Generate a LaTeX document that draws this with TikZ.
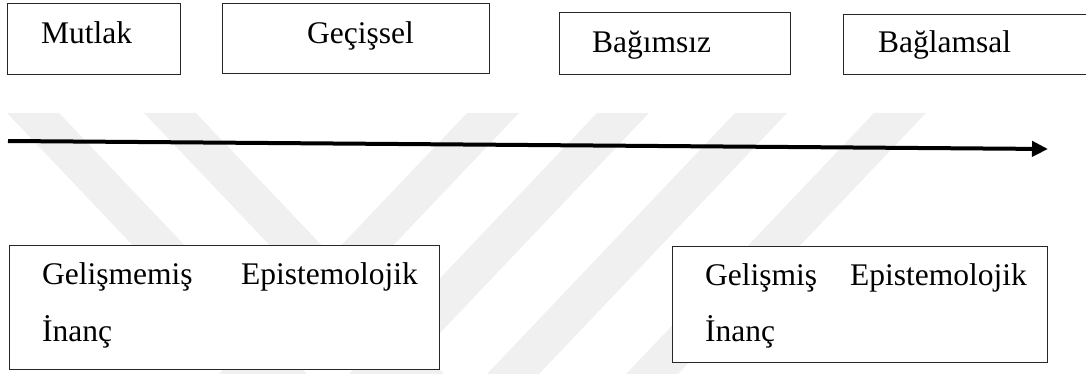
\documentclass[tikz,border=0pt]{standalone}
\usepackage{fontspec}
\setmainfont{Liberation Serif}
\usetikzlibrary{arrows.meta}
\tikzset{
  box/.style={draw=black!85, line width=1.2pt, fill=white, inner sep=0pt, anchor=north west},
  lbl/.style={inner sep=0pt, font=\fontsize{31.5}{40}\selectfont},
  wm/.style={fill=black!6, draw=none},
  axis/.style={line width=4pt, -{Triangle[length=16pt,width=15pt]}}
}
\begin{document}
\begin{tikzpicture}[x=1pt,y=-1pt]
\useasboundingbox (0,0) rectangle (1086,374);
\begin{scope}
\clip (0,0) rectangle (1086,374);
% watermark stripes
\foreach \xa in {7,144}{
  \fill[wm] (\xa,113) -- (\xa+52,113) -- ({\xa+52+0.95*290},403) -- ({\xa+0.95*290},403) -- cycle;
}
\foreach \xa in {467,597,735,874}{
  \fill[wm] (\xa,113) -- (\xa+52,113) -- ({\xa+52-0.95*290},403) -- ({\xa-0.95*290},403) -- cycle;
}
% top boxes
\node[box, minimum width=173pt, minimum height=71pt] (b1) at (7,3) {};
\node[box, minimum width=267pt, minimum height=70pt] (b2) at (222,3) {};
\node[box, minimum width=231pt, minimum height=62pt] (b3) at (559,12) {};
\node[box, minimum width=260pt, minimum height=60pt] (b4) at (843,14) {};
\end{scope}
\node[lbl, anchor=base west] (t1) at (41,44) {Mutlak};
\node[lbl, anchor=base west] (t2) at (307,44) {Geçişsel};
\node[lbl, anchor=base west] (t3) at (592,53) {Bağımsız};
\node[lbl, anchor=base west] (t4) at (878,53) {Bağlamsal};
% arrow
\coordinate (as) at (8,141);
\coordinate (ae) at (1048,149);
\draw[axis] (as) -- (ae);
% bottom boxes
\node[box, minimum width=430pt, minimum height=124pt] (c1) at (9,245) {};
\node[box, minimum width=375pt, minimum height=116pt] (c2) at (672,246) {};
\node[lbl, anchor=base west] (g1) at (42,284) {Gelişmemiş};
\node[lbl, anchor=base east] (e1) at (418,284) {Epistemolojik};
\node[lbl, anchor=base west] (i1) at (42,341) {İnanç};
\node[lbl, anchor=base west] (g2) at (705,285) {Gelişmiş};
\node[lbl, anchor=base east] (e2) at (1027,285) {Epistemolojik};
\node[lbl, anchor=base west] (i2) at (705,341) {İnanç};
\end{tikzpicture}
\end{document}
